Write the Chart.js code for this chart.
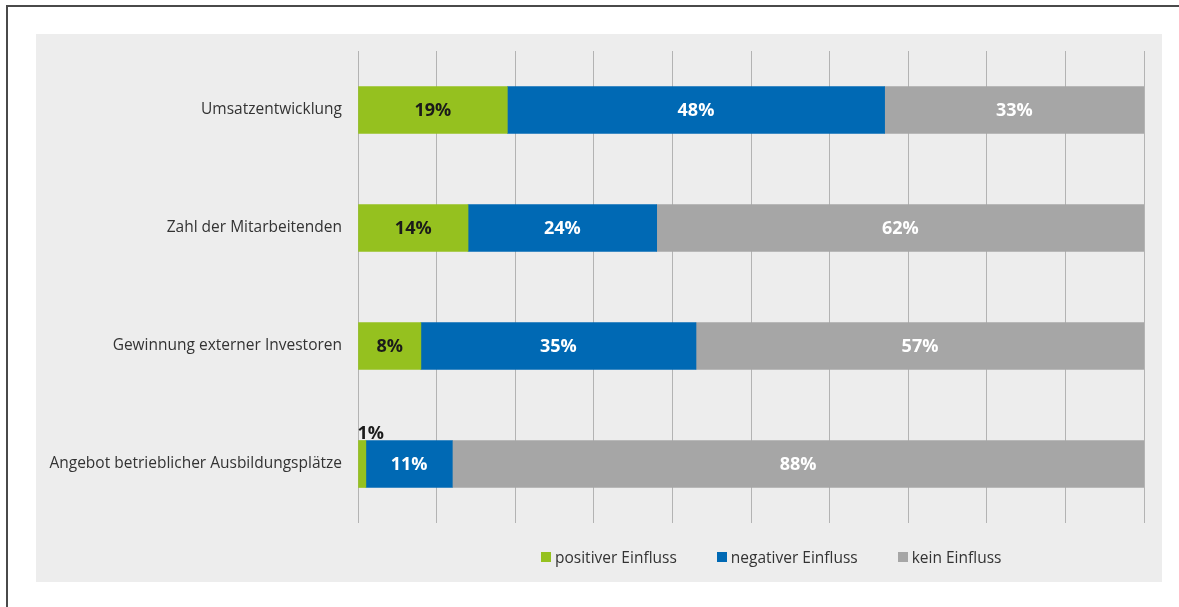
<!DOCTYPE html>
<html lang="de">
<head>
<meta charset="utf-8">
<script src="https://cdn.jsdelivr.net/npm/chart.js@4/dist/chart.umd.min.js"></script>
<style>
  html, body { margin: 0; padding: 0; background: #fff; }
  body { width: 1179px; height: 607px; position: relative; overflow: hidden; font-family: "Open Sans", sans-serif; }
  #frame { position: absolute; left: 6px; top: 5px; right: -2px; bottom: -2px; border-left: 2px solid #4a4a4a; border-top: 2px solid #4a4a4a; }
  #panel { position: absolute; left: 36px; top: 34px; width: 1126px; height: 548px; background: #ededed; }
  #chart { position: absolute; left: 0; top: 0; }
  #legend { position: absolute; left: 505px; top: 513px; display: flex; align-items: center; font-size: 15.5px; color: #333; line-height: 20px; }
  #legend .item { display: flex; align-items: center; margin-right: 40px; }
  #legend .item:last-child { margin-right: 0; }
  #legend .box { width: 10px; height: 10px; margin-right: 4px; }
</style>
</head>
<body>
<div id="frame"></div>
<div id="panel">
  <canvas id="chart" width="1126" height="548"></canvas>
  <div id="legend"></div>
</div>
<script>
const categories = [
  'Umsatzentwicklung',
  'Zahl der Mitarbeitenden',
  'Gewinnung externer Investoren',
  'Angebot betrieblicher Ausbildungsplätze'
];
const seriesNames = ['positiver Einfluss', 'negativer Einfluss', 'kein Einfluss'];
const positiv = [19, 14, 8, 1];
const negativ = [48, 24, 35, 11];
const keinEinfluss = [33, 62, 57, 88];

const colors = ['#95c11f', '#0069b4', '#a6a6a6'];
const labelColors = ['#1a1a1a', '#ffffff', '#ffffff'];
const font = '"Open Sans", sans-serif';

const series = [positiv, negativ, keinEinfluss];

const barLabels = {
  id: 'barLabels',
  afterDatasetsDraw(chart) {
    const ctx = chart.ctx;
    ctx.save();
    ctx.font = 'bold 18px ' + font;
    chart.data.datasets.forEach((ds, di) => {
      const meta = chart.getDatasetMeta(di);
      meta.data.forEach((bar, i) => {
        const v = ds.data[i];
        const txt = v + '%';
        ctx.fillStyle = labelColors[di];
        if (v < 3) {
          // zu schmal: Label über dem Balken
          ctx.fillStyle = '#1a1a1a';
          ctx.textAlign = 'left';
          ctx.textBaseline = 'alphabetic';
          ctx.fillText(txt, bar.base - 1, bar.y - bar.height / 2 - 2);
        } else {
          ctx.textAlign = 'center';
          ctx.textBaseline = 'middle';
          ctx.fillText(txt, (bar.x + bar.base) / 2, bar.y + 1);
        }
      });
    });
    ctx.restore();
  }
};

new Chart(document.getElementById('chart').getContext('2d'), {
  type: 'bar',
  data: {
    labels: categories,
    datasets: series.map((d, i) => ({
      label: seriesNames[i],
      data: d,
      backgroundColor: colors[i],
      borderWidth: 0,
      barThickness: 47
    }))
  },
  options: {
    indexAxis: 'y',
    responsive: false,
    animation: false,
    layout: { padding: { left: 0, right: 18, top: 17, bottom: 59 } },
    scales: {
      x: {
        stacked: true, min: 0, max: 100,
        ticks: { display: false, stepSize: 10 },
        grid: { color: '#b3b3b3', lineWidth: 1, drawTicks: false },
        border: { display: false },
        afterFit: (s) => { s.height = 0; }
      },
      y: {
        stacked: true,
        grid: { display: false, drawTicks: false },
        border: { display: false },
        ticks: { color: '#333', padding: 16, font: { family: font, size: 15.5 } },
        afterFit: (s) => { s.width = 322; s.paddingTop = 0; s.paddingBottom = 0; }
      }
    },
    plugins: {
      legend: { display: false },
      tooltip: { enabled: false }
    }
  },
  plugins: [barLabels]
});

const legend = document.getElementById('legend');
seriesNames.forEach((name, i) => {
  const item = document.createElement('div');
  item.className = 'item';
  item.innerHTML = `<span class="box" style="background:${colors[i]}"></span><span>${name}</span>`;
  legend.appendChild(item);
});
</script>
</body>
</html>
